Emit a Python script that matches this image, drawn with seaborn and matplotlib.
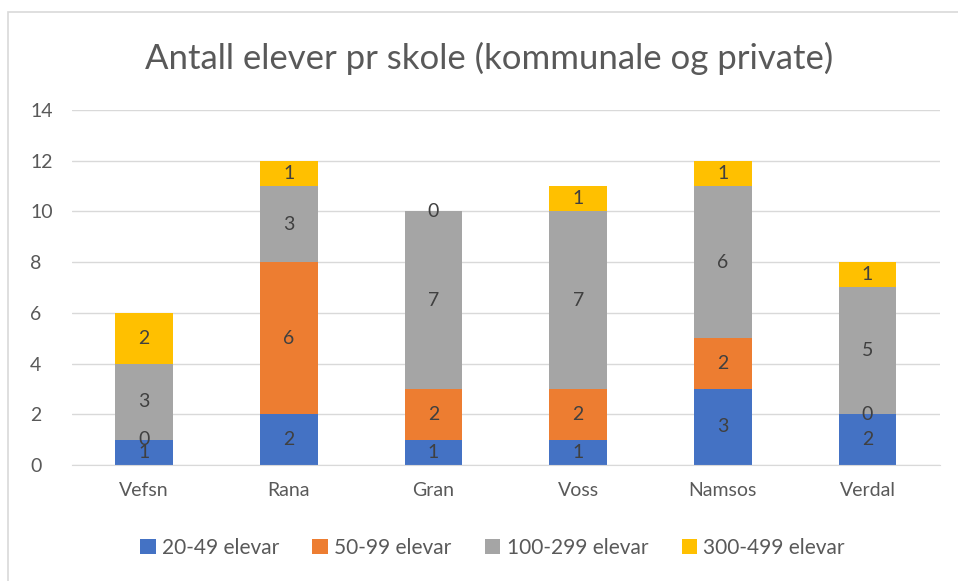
import pandas as pd
import matplotlib.pyplot as plt
import seaborn as sns
from matplotlib.patches import Rectangle

skoler = ['Vefsn', 'Rana', 'Gran', 'Voss', 'Namsos', 'Verdal']
grupper = ['20-49 elevar', '50-99 elevar', '100-299 elevar', '300-499 elevar']
elevar_20_49 = [1, 2, 1, 1, 3, 2]
elevar_50_99 = [0, 6, 2, 2, 2, 0]
elevar_100_299 = [3, 3, 7, 7, 6, 5]
elevar_300_499 = [2, 1, 0, 1, 1, 1]
farger = ['#4472C4', '#ED7D31', '#A5A5A5', '#FFC000']

sns.set_style('white')
plt.rcParams['font.family'] = ['Lato', 'DejaVu Sans']
tekst = '#595959'

fig = plt.figure(figsize=(9.58, 5.81), dpi=100)
ax = fig.add_axes([0.075, 0.1997, 0.906, 0.611])

serier = [elevar_20_49, elevar_50_99, elevar_100_299, elevar_300_499]
bunn = [0] * len(skoler)
for navn, verdier, farge in zip(grupper, serier, farger):
    df = pd.DataFrame({'skole': skoler, 'antall': verdier})
    sns.barplot(data=df, x='skole', y='antall', bottom=bunn, color=farge,
                width=0.4, label=navn, ax=ax, saturation=1, linewidth=0,
                edgecolor='none')
    ax.bar_label(ax.containers[-1], labels=[str(v) for v in verdier],
                 label_type='center', color='#404040', fontsize=14)
    bunn = [b + v for b, v in zip(bunn, verdier)]

handles, labels = ax.get_legend_handles_labels()
if ax.get_legend() is not None:
    ax.get_legend().remove()

ax.set_ylim(0, 14)
ax.set_yticks(range(0, 15, 2))
ax.set_xlim(-0.5, 5.5)
ax.grid(axis='y', color='#D9D9D9', linewidth=1)
ax.set_axisbelow(True)
for s in ['top', 'right', 'left']:
    ax.spines[s].set_visible(False)
ax.spines['bottom'].set_color('#D9D9D9')
ax.tick_params(axis='both', length=0, labelsize=14, labelcolor=tekst)
ax.tick_params(axis='x', pad=12)
ax.tick_params(axis='y', pad=30)
for t in ax.get_yticklabels():
    t.set_horizontalalignment('left')
ax.set_xlabel('')
ax.set_ylabel('')

fig.text(0.511, 0.9, 'Antall elever pr skole (kommunale og private)',
         ha='center', va='center', fontsize=25, color=tekst)

fig.legend(handles, labels, loc='center', bbox_to_anchor=(0.514, 0.057), ncol=4,
           frameon=False, fontsize=15, labelcolor=tekst, handlelength=0.75,
           handleheight=0.75, handletextpad=0.3, columnspacing=1.6)

fig.patches.append(Rectangle((8 / 958, -0.1), 1.2, (581 - 12) / 581 + 0.1,
                             transform=fig.transFigure, fill=False,
                             edgecolor='#D9D9D9', linewidth=1.2))

fig.savefig('out.png', dpi=100)
